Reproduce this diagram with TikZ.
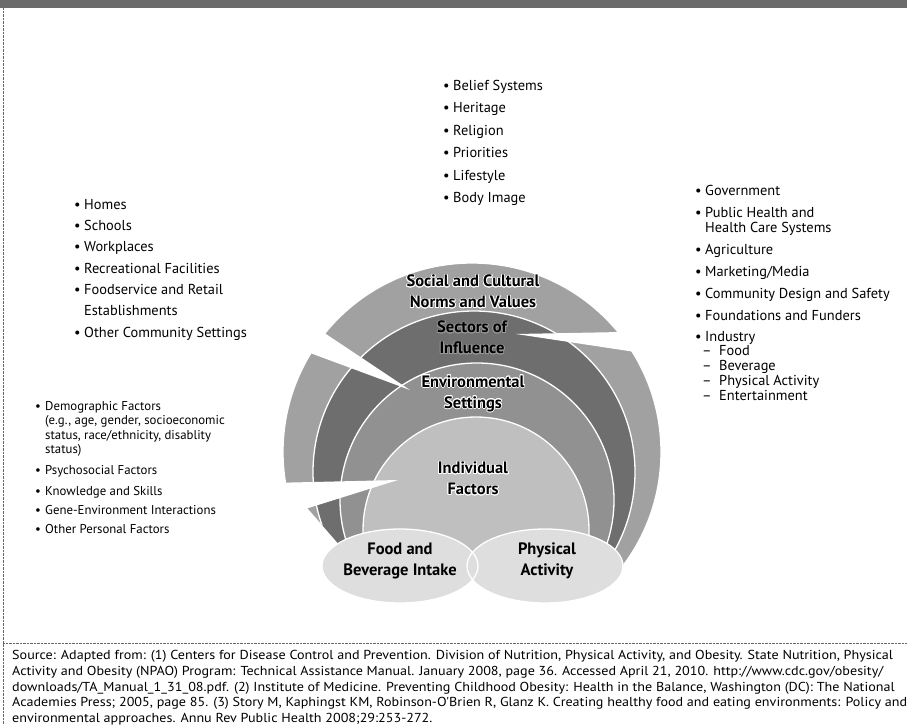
\documentclass[tikz,border=0pt]{standalone}
\usepackage{fontspec}
\setmainfont{PT Sans}
\setsansfont{PT Sans}
\newfontfamily\srcfont[FakeStretch=1.085]{PT Sans}
\usepackage{contour}
\contourlength{0.8pt}
\usetikzlibrary{positioning}

\definecolor{bandgray}{gray}{0.42}
\definecolor{socialgray}{gray}{0.63}
\definecolor{sectorgray}{gray}{0.43}
\definecolor{envgray}{gray}{0.57}
\definecolor{indivgray}{gray}{0.75}
\definecolor{intakegray}{gray}{0.87}

\newcommand{\bul}{\makebox[10pt][l]{\textbullet}}
\newcommand{\cnt}{\hspace*{10pt}}
\newcommand{\dsh}{\hspace*{7pt}\makebox[17pt][l]{--}}
\newcommand{\rlab}[2][white]{\contour{#1}{#2}}

\begin{document}
\begin{tikzpicture}[
    x=1pt, y=-1pt,      % pixel grid, y runs downward
    listtext/.style={align=left, inner sep=0pt, anchor=north west, text=black},
    ringlabel/.style={align=center, inner sep=0pt, font=\bfseries\fontsize{16.5}{21}\selectfont},
    ringline/.style={draw=white, line width=1.3pt},
    notch/.style={fill=white},
    intake/.style={fill=intakegray},
  ]

  \useasboundingbox (0,0) rectangle (907,725);

  % --- FRAME ---
  \fill[bandgray] (0,0) rectangle (907,8);
  \draw[densely dotted, black!60] (3,8) -- (3,725);
  \draw[densely dotted, black!60] (3,643) -- (907,643);

  % --- NESTED RINGS ---
  \begin{scope}
    \clip (250,240) -- (700,240) -- (700,572) -- (363,572) -- (283,480) -- (250,480) -- cycle;
    \filldraw[fill=socialgray, ringline] (472,452) circle[radius=189];
    \filldraw[fill=sectorgray, ringline] (474,472) circle[radius=161];
    \filldraw[fill=envgray, ringline]    (477,500) circle[radius=137];
    \filldraw[fill=indivgray, ringline]  (476,530) circle[radius=113];
  \end{scope}

  % --- NOTCHES pointing into the rings ---
  \fill[notch] (410,390) -- (290,310) -- (275,340) -- cycle;
  \fill[notch] (516,334) -- (675,331) -- (675,358) -- cycle;
  \fill[notch] (398,480) -- (270,483) -- (270,520) -- cycle;

  % --- BEHAVIOURS ---
  \fill[intake] (400,566) ellipse[x radius=78, y radius=37];
  \fill[intake] (545,566) ellipse[x radius=78, y radius=37];
  \draw[ringline] (400,566) ellipse[x radius=78, y radius=37];
  \draw[ringline] (545,566) ellipse[x radius=78, y radius=37];

  % --- RING LABELS ---
  \node[ringlabel] (social) at (473,292) {\rlab{Social and Cultural}\\\rlab{Norms and Values}};
  \node[ringlabel] (sectors) at (472,338) {\rlab[gray!80]{Sectors of}\\\rlab[gray!80]{Influence}};
  \node[ringlabel] (settings) at (473,394) {\rlab{Environmental}\\\rlab{Settings}};
  \node[ringlabel] (individual) at (473,479) {\rlab{Individual}\\\rlab{Factors}};
  \node[ringlabel] (food) at (400,561) {Food and\\Beverage Intake};
  \node[ringlabel] (activity) at (547,561) {Physical\\Activity};

  % --- LISTS ---
  \node[listtext, font=\fontsize{14.4}{22.4}\selectfont] (normslist) at (443,80) {
    \bul Belief Systems\\
    \bul Heritage\\
    \bul Religion\\
    \bul Priorities\\
    \bul Lifestyle\\
    \bul Body Image};

  \node[listtext, font=\fontsize{14.4}{21.3}\selectfont] (settingslist) at (74,199) {
    \bul Homes\\
    \bul Schools\\
    \bul Workplaces\\
    \bul Recreational Facilities\\
    \bul Foodservice and Retail\\
    \cnt Establishments\\
    \bul Other Community Settings};

  \node[listtext, font=\fontsize{14.4}{15.5}\selectfont] (sectorslist) at (695,185) {
    \bul Government\\[6.5pt]
    \bul Public Health and\\
    \cnt Health Care Systems\\[6.5pt]
    \bul Agriculture\\[6.5pt]
    \bul Marketing/Media\\[6.5pt]
    \bul Community Design and Safety\\[6.5pt]
    \bul Foundations and Funders\\[5pt]
    \bul Industry\\[-1pt]
    \dsh Food\\[-0.5pt]
    \dsh Beverage\\[-0.5pt]
    \dsh Physical Activity\\[-0.5pt]
    \dsh Entertainment};

  \node[listtext, font=\fontsize{12.8}{14.4}\selectfont] (individuallist) at (35,401) {
    \bul Demographic Factors\\
    \cnt (e.g., age, gender, socioeconomic\\
    \cnt status, race/ethnicity, disablity\\
    \cnt status)\\[7pt]
    \bul Psychosocial Factors\\[6pt]
    \bul Knowledge and Skills\\[5pt]
    \bul Gene-Environment Interactions\\[4pt]
    \bul Other Personal Factors};

  % --- SOURCE NOTE ---
  \node[listtext, font=\srcfont\fontsize{13}{15.8}\selectfont] (source) at (12,650) {
    Source: Adapted from: (1) Centers for Disease Control and Prevention. Division of Nutrition, Physical Activity, and Obesity. State Nutrition, Physical\\
    Activity and Obesity (NPAO) Program: Technical Assistance Manual. January 2008, page 36. Accessed April 21, 2010. http://www.cdc.gov/obesity/\\
    downloads/TA\_Manual\_1\_31\_08.pdf. (2) Institute of Medicine. Preventing Childhood Obesity: Health in the Balance, Washington (DC): The National\\
    Academies Press; 2005, page 85. (3) Story M, Kaphingst KM, Robinson-O'Brien R, Glanz K. Creating healthy food and eating environments: Policy and\\
    environmental approaches. Annu Rev Public Health 2008;29:253-272.};

\end{tikzpicture}
\end{document}
